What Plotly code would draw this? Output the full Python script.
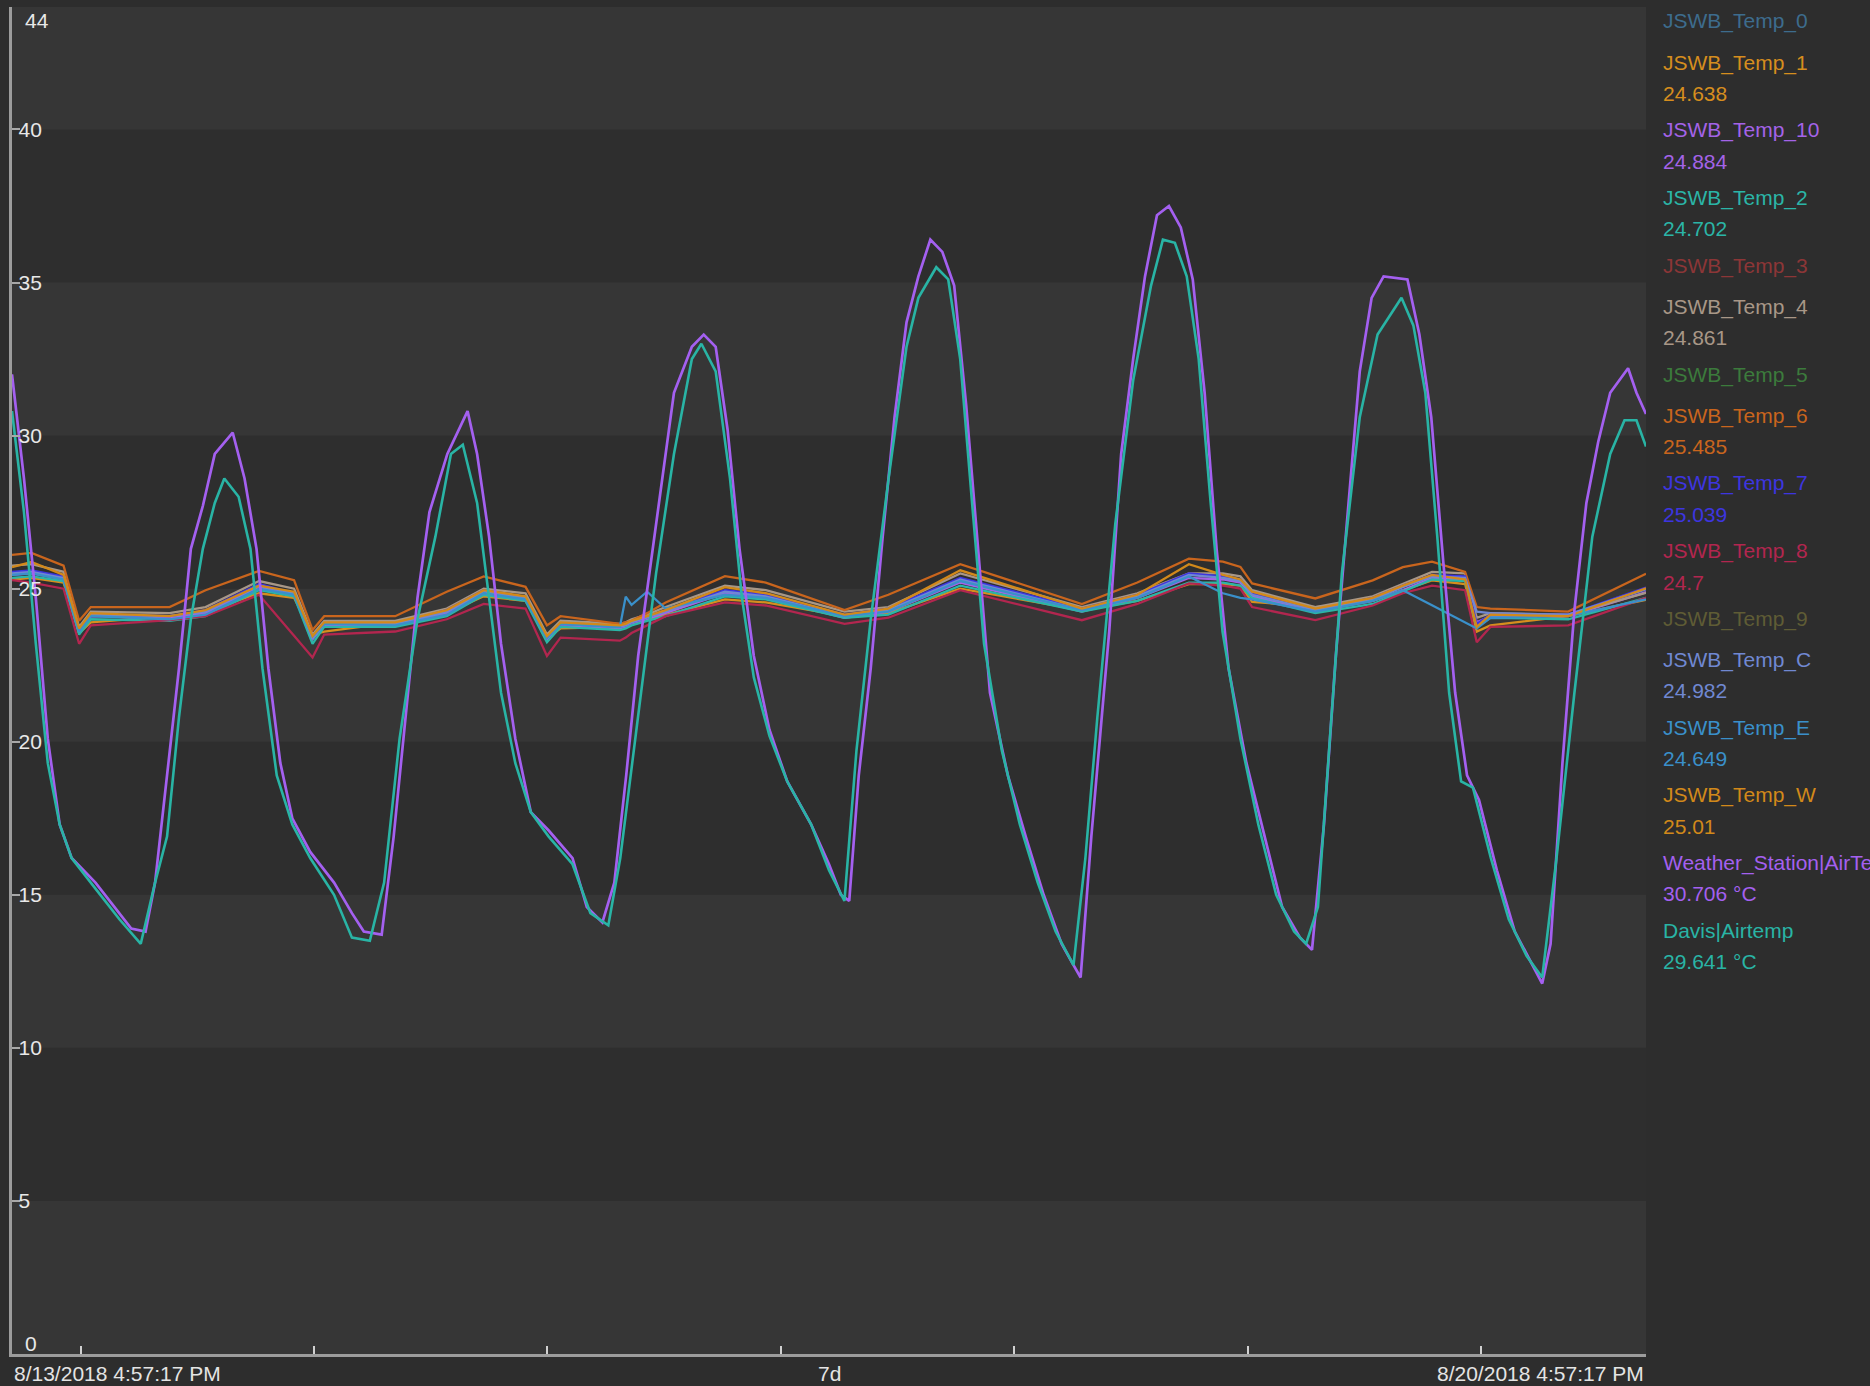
import pandas as pd
import plotly.graph_objects as go

START = pd.Timestamp("2018-08-13 16:57:17")
END = START + pd.Timedelta(days=7)

# ---------------- data ----------------
# big curves (hours from start, °C)
WS_H = [0.0, 1.23, 2.45, 3.68, 4.90, 6.13, 8.58, 11.04, 12.26, 13.73, 14.71, 15.94, 17.17, 18.39, 19.62,
        20.85, 22.69, 23.91, 25.14, 26.36, 27.59, 28.82, 30.66, 33.11, 34.95, 36.17, 38.01, 39.24, 40.47,
        41.69, 42.92, 44.76, 46.84, 47.82, 49.05, 50.28, 51.75, 53.34, 55.18, 57.63, 59.10, 60.70, 61.93,
        63.15, 64.38, 66.22, 68.06, 69.90, 71.12, 72.35, 73.57, 74.80, 76.27, 77.87, 79.71, 82.16, 84.00,
        85.22, 86.08, 87.06, 88.29, 89.52, 90.74, 91.97, 93.19, 94.42, 95.65, 96.87, 98.10, 99.33, 100.55,
        102.39, 104.23, 106.07, 107.91, 109.14, 109.87, 110.97, 112.81, 114.04, 115.27, 116.49, 117.72,
        118.95, 120.17, 121.40, 122.62, 123.85, 125.08, 126.92, 128.76, 130.59, 132.43, 133.66, 134.89,
        136.11, 137.34, 138.57, 139.79, 141.02, 143.47, 144.70, 145.92, 147.15, 148.38, 149.60, 150.83,
        152.67, 154.51, 156.35, 157.33, 158.19, 159.41, 160.64, 161.87, 163.09, 164.32, 166.16, 167.02, 168.0]
WS_V = [32.0, 28.6, 24.7, 20.1, 17.3, 16.2, 15.4, 14.4, 13.9, 13.8, 15.4, 18.9, 22.4, 26.3, 27.7,
        29.4, 30.1, 28.6, 26.3, 22.4, 19.3, 17.5, 16.4, 15.4, 14.4, 13.8, 13.7, 16.9, 20.8,
        24.7, 27.5, 29.4, 30.8, 29.4, 26.7, 23.2, 20.1, 17.7, 17.1, 16.2, 14.6, 14.1, 15.4,
        18.9, 22.8, 27.1, 31.4, 32.9, 33.3, 32.9, 30.2, 26.3, 22.8, 20.4, 18.7, 17.3, 16.0,
        15.0, 14.8, 18.9, 22.4, 26.7, 30.6, 33.7, 35.2, 36.4, 36.0, 34.9, 31.0, 26.3, 21.6,
        18.9, 16.9, 15.0, 13.4, 12.7, 12.3, 16.9, 23.6, 29.4, 32.5, 35.2, 37.2,
        37.5, 36.8, 35.1, 31.4, 26.3, 22.4, 19.3, 16.9, 14.6, 13.6, 13.2, 17.3,
        22.8, 27.5, 32.1, 34.5, 35.2, 35.1, 33.3, 30.6, 25.9, 21.6, 18.9, 18.1,
        15.8, 13.8, 12.7, 12.1, 13.4, 19.3, 24.3, 27.8, 29.8, 31.4, 32.2, 31.4, 30.706]

DV_H = [0.0, 1.23, 2.45, 3.68, 4.90, 6.13, 8.58, 11.04, 13.24, 14.71, 15.94, 17.17, 18.39, 19.62, 20.85,
        21.83, 23.30, 24.52, 25.75, 27.22, 28.82, 30.66, 33.11, 34.95, 36.79, 38.26, 39.85, 41.69, 43.53,
        45.13, 46.35, 47.82, 49.05, 50.28, 51.75, 53.34, 55.18, 57.63, 59.47, 61.31, 62.54, 64.38, 66.22,
        68.06, 69.90, 70.88, 72.35, 73.82, 75.05, 76.27, 77.87, 79.71, 82.16, 84.00, 85.59, 86.82, 88.29,
        90.13, 91.97, 93.19, 95.03, 96.26, 97.49, 98.71, 99.94, 101.78, 103.62, 105.46, 107.30, 109.14,
        110.36, 111.59, 113.43, 115.27, 117.11, 118.33, 119.56, 120.78, 122.01, 123.24, 124.46, 126.30,
        128.14, 129.98, 131.82, 133.05, 134.27, 135.50, 136.73, 138.57, 140.40, 142.86, 144.08, 145.31,
        146.54, 147.76, 148.99, 150.21, 152.05, 153.89, 155.73, 157.33, 158.80, 160.64, 162.48, 164.32,
        165.79, 167.02, 168.0]
DV_V = [30.8, 27.5, 23.2, 19.3, 17.3, 16.2, 15.2, 14.2, 13.4, 15.4, 16.9, 20.8, 24.0, 26.3, 27.8,
        28.6, 28.0, 26.3, 22.4, 18.9, 17.3, 16.2, 15.0, 13.6, 13.5, 15.4, 20.1, 24.0, 26.7,
        29.4, 29.7, 27.8, 24.7, 21.6, 19.3, 17.7, 16.9, 16.0, 14.4, 14.0, 16.2, 20.8, 25.5,
        29.4, 32.5, 33.0, 32.1, 28.6, 24.7, 22.1, 20.2, 18.7, 17.3, 15.8, 14.8, 19.7, 24.0,
        28.6, 32.9, 34.5, 35.5, 35.1, 32.5, 27.8, 23.2, 19.7, 17.3, 15.4, 13.8, 12.7,
        16.2, 20.8, 27.1, 31.8, 34.9, 36.4, 36.3, 35.2, 32.5, 27.8, 23.6, 20.1,
        17.3, 15.0, 13.8, 13.4, 14.6, 20.1, 25.5, 30.6, 33.3, 34.5, 33.6, 31.4,
        26.7, 21.6, 18.7, 18.5, 16.2, 14.2, 13.0, 12.3, 16.2, 21.6, 26.7, 29.4,
        30.5, 30.5, 29.641]

# indoor sensors share one set of sample times (hours from start)
FLAT_H = [0, 2.0, 5.3, 6.9, 8.1, 16.2, 19.9, 25.4, 29.0, 30.9, 32.1, 39.4, 44.7, 48.5, 52.8, 55.0,
          56.4, 62.5, 63.1, 63.7, 65.3, 67.2, 73.3, 77.5, 85.6, 90.1, 97.5, 110.0, 115.7, 121.0,
          124.5, 126.3, 127.5, 134.0, 139.9, 143.0, 146.0, 149.4, 150.6, 152.0, 160.0, 168.0]

T1 = [25.30, 25.35, 25.20, 23.55, 23.90, 24.10, 24.25, 24.85, 24.70, 23.50, 23.60, 23.90, 24.20, 24.75,
      24.60, 23.40, 23.70, 23.75, 23.80, 23.85, 24.00, 24.15, 24.65, 24.55, 24.10, 24.20, 25.00, 24.30,
      24.60, 25.15, 25.15, 25.10, 24.57, 24.40, 24.60, 24.95, 25.27, 25.15, 23.60, 23.80, 24.10, 24.638]
T10 = [25.45, 25.50, 25.30, 23.55, 24.10, 24.05, 24.20, 25.05, 24.80, 23.35, 23.80, 23.80, 24.20, 24.85,
       24.65, 23.35, 23.80, 23.70, 23.75, 23.85, 24.00, 24.20, 24.85, 24.70, 24.05, 24.25, 25.20, 24.25,
       24.70, 25.35, 25.30, 25.20, 24.75, 24.25, 24.60, 24.95, 25.35, 25.30, 23.90, 24.10, 24.10, 24.884]
T2 = [25.35, 25.40, 25.25, 23.50, 24.00, 23.95, 24.10, 24.95, 24.75, 23.20, 23.75, 23.75, 24.10, 24.80,
      24.60, 23.25, 23.75, 23.65, 23.70, 23.80, 23.95, 24.10, 24.75, 24.65, 24.05, 24.15, 25.10, 24.25,
      24.60, 25.20, 25.20, 25.10, 24.70, 24.20, 24.50, 24.90, 25.30, 25.25, 23.75, 24.05, 24.00, 24.702]
T4 = [25.75, 25.80, 25.55, 23.75, 24.25, 24.20, 24.40, 25.25, 25.00, 23.50, 23.95, 23.95, 24.35, 25.00,
      24.85, 23.50, 23.95, 23.85, 23.90, 24.00, 24.15, 24.40, 25.10, 24.95, 24.25, 24.40, 25.50, 24.40,
      24.85, 25.50, 25.50, 25.40, 24.95, 24.40, 24.75, 25.15, 25.55, 25.50, 24.05, 24.20, 24.15, 24.861]
T6 = [26.10, 26.17, 25.75, 23.95, 24.40, 24.40, 24.95, 25.58, 25.28, 23.65, 24.10, 24.10, 24.90, 25.40,
      25.06, 23.80, 24.10, 23.85, 23.90, 23.95, 24.20, 24.55, 25.41, 25.20, 24.30, 24.80, 25.80, 24.50,
      25.20, 25.98, 25.88, 25.71, 25.17, 24.68, 25.27, 25.70, 25.88, 25.55, 24.40, 24.35, 24.25, 25.485]
T7 = [25.55, 25.60, 25.40, 23.65, 24.15, 24.10, 24.30, 25.15, 24.85, 23.40, 23.85, 23.85, 24.30, 24.95,
      24.70, 23.40, 23.85, 23.75, 23.80, 23.90, 24.05, 24.30, 24.95, 24.80, 24.15, 24.35, 25.35, 24.35,
      24.80, 25.50, 25.40, 25.30, 24.85, 24.30, 24.70, 25.10, 25.45, 25.40, 23.85, 24.15, 24.15, 25.039]
T8 = [25.28, 25.20, 25.00, 23.20, 23.80, 23.97, 24.10, 24.80, 23.46, 22.75, 23.50, 23.60, 24.00, 24.50,
      24.35, 22.80, 23.40, 23.30, 23.40, 23.55, 23.80, 24.10, 24.55, 24.45, 23.85, 24.05, 24.95, 23.97,
      24.50, 25.17, 25.10, 25.00, 24.40, 23.97, 24.45, 24.85, 25.10, 24.95, 23.25, 23.75, 23.80, 24.70]
TC = [25.50, 25.55, 25.35, 23.60, 24.15, 24.10, 24.25, 25.10, 24.85, 23.35, 23.85, 23.85, 24.25, 24.90,
      24.70, 23.40, 23.85, 23.75, 23.80, 23.90, 24.05, 24.25, 24.90, 24.75, 24.10, 24.30, 25.30, 24.30,
      24.75, 25.45, 25.35, 25.25, 24.80, 24.30, 24.65, 25.05, 25.40, 25.35, 24.25, 24.20, 24.15, 24.982]
TE = [25.45, 25.50, 25.30, 23.60, 24.10, 24.00, 24.15, 25.00, 24.80, 23.45, 23.85, 23.80, 24.15, 24.85,
      24.65, 23.40, 23.85, 23.75, 24.74, 24.47, 24.90, 24.35, 24.80, 24.70, 24.10, 24.25, 25.25, 24.30,
      24.70, 25.40, 24.85, 24.70, 24.65, 24.25, 24.60, 24.95, 24.46, 23.90, 23.70, 24.05, 24.10, 24.649]
TW = [25.70, 25.87, 25.45, 23.70, 24.20, 24.10, 24.30, 25.10, 24.90, 23.45, 23.90, 23.90, 24.30, 24.95,
      24.75, 23.45, 23.90, 23.80, 23.85, 23.95, 24.10, 24.30, 25.05, 24.85, 24.15, 24.35, 25.60, 24.35,
      24.80, 25.80, 25.45, 25.30, 24.90, 24.35, 24.70, 25.10, 25.45, 25.30, 23.75, 24.15, 24.10, 25.01]

# legend entries: name, last value text (None = no data), colour
LEGEND_NAMES = ["JSWB_Temp_0", "JSWB_Temp_1", "JSWB_Temp_10", "JSWB_Temp_2", "JSWB_Temp_3",
                "JSWB_Temp_4", "JSWB_Temp_5", "JSWB_Temp_6", "JSWB_Temp_7", "JSWB_Temp_8",
                "JSWB_Temp_9", "JSWB_Temp_C", "JSWB_Temp_E", "JSWB_Temp_W",
                "Weather_Station|AirTemp", "Davis|Airtemp"]
LEGEND_VALUES = [None, "24.638", "24.884", "24.702", None, "24.861", None, "25.485", "25.039",
                 "24.7", None, "24.982", "24.649", "25.01", "30.706 °C", "29.641 °C"]
LEGEND_COLORS = ["#3d6c8d", "#d68e1e", "#a463e8", "#2bb5a7", "#8c3637", "#a89787", "#3c7b3c",
                 "#c9651d", "#3d35e0", "#b2264f", "#5f5c35", "#7088d2", "#3a90ca", "#d2891a",
                 "#a460f0", "#29b4a5"]

Y_TICKS = [0, 5, 10, 15, 20, 25, 30, 35, 40, 44]
BAND_EDGES = [0, 5, 10, 15, 20, 25, 30, 35, 40, 44]
DAY_TICKS = ["2018-08-14", "2018-08-15", "2018-08-16", "2018-08-17", "2018-08-18", "2018-08-19", "2018-08-20"]
LABEL_LEFT = "8/13/2018 4:57:17 PM"
LABEL_MID = "7d"
LABEL_RIGHT = "8/20/2018 4:57:17 PM"

# ---------------- figure ----------------
def to_time(hours):
    return START + pd.to_timedelta(pd.Series(hours, dtype=float), unit="h")

FONT = "Liberation Sans, Arial, sans-serif"
FS = 21
fig = go.Figure()

flat_series = [("JSWB_Temp_1", T1), ("JSWB_Temp_10", T10), ("JSWB_Temp_2", T2), ("JSWB_Temp_4", T4),
               ("JSWB_Temp_6", T6), ("JSWB_Temp_7", T7), ("JSWB_Temp_8", T8), ("JSWB_Temp_C", TC),
               ("JSWB_Temp_E", TE), ("JSWB_Temp_W", TW)]
color_of = dict(zip(LEGEND_NAMES, LEGEND_COLORS))
xt_flat = to_time(FLAT_H)
for name, vals in flat_series:
    fig.add_trace(go.Scatter(x=xt_flat, y=vals, mode="lines", name=name,
                             line=dict(color=color_of[name], width=2.3), showlegend=False))

fig.add_trace(go.Scatter(x=to_time(WS_H), y=WS_V, mode="lines", name="Weather_Station|AirTemp",
                         line=dict(color=color_of["Weather_Station|AirTemp"], width=2.7), showlegend=False))
fig.add_trace(go.Scatter(x=to_time(DV_H), y=DV_V, mode="lines", name="Davis|Airtemp",
                         line=dict(color=color_of["Davis|Airtemp"], width=2.6), showlegend=False))

# alternating horizontal bands
shapes = []
for i in range(len(BAND_EDGES) - 1):
    if i % 2 == 0:
        shapes.append(dict(type="rect", xref="paper", yref="y", x0=0, x1=1,
                           y0=BAND_EDGES[i], y1=BAND_EDGES[i + 1],
                           fillcolor="#363636", line=dict(width=0), layer="below"))

annotations = []
# legend as coloured text, laid out top-down in the right margin
PLOT_L, PLOT_W, PLOT_B, PLOT_H = 12, 1634, 1354, 1347
LEG_X = (1661 - PLOT_L) / PLOT_W
ypos = 21.5
for name, val, col in zip(LEGEND_NAMES, LEGEND_VALUES, LEGEND_COLORS):
    annotations.append(dict(text=name, xref="paper", yref="paper",
                            x=LEG_X, y=(PLOT_B - ypos) / PLOT_H,
                            xanchor="left", yanchor="middle", showarrow=False,
                            font=dict(family=FONT, size=FS, color=col)))
    if val is not None:
        annotations.append(dict(text=val, xref="paper", yref="paper",
                                x=LEG_X, y=(PLOT_B - ypos - 31) / PLOT_H,
                                xanchor="left", yanchor="middle", showarrow=False,
                                font=dict(family=FONT, size=FS, color=col)))
        ypos += 67.6
    else:
        ypos += 41.3

# bottom time labels
for txt, xx, anc in [(LABEL_LEFT, 0, "left"), (LABEL_MID, 0.5, "center"), (LABEL_RIGHT, 1, "right")]:
    annotations.append(dict(text=txt, xref="paper", yref="paper", x=xx, y=0, xanchor=anc,
                            yanchor="middle", yshift=-19, showarrow=False,
                            font=dict(family=FONT, size=FS, color="#e4e4e4")))
# end labels on y axis kept inside the plot
annotations.append(dict(text=str(Y_TICKS[-1]), xref="paper", yref="y", x=0, y=Y_TICKS[-1],
                        xanchor="left", yanchor="middle", xshift=11, yshift=-13, showarrow=False,
                        font=dict(family=FONT, size=FS, color="#e8e8e8")))
annotations.append(dict(text=str(Y_TICKS[0]), xref="paper", yref="y", x=0, y=Y_TICKS[0],
                        xanchor="left", yanchor="middle", xshift=11, yshift=11, showarrow=False,
                        font=dict(family=FONT, size=FS, color="#e8e8e8")))

fig.update_layout(
    width=1870, height=1386,
    margin=dict(l=12, r=224, t=7, b=32),
    paper_bgcolor="#2d2d2d", plot_bgcolor="#2e2e2e",
    shapes=shapes, annotations=annotations,
    showlegend=False,
    font=dict(family=FONT, color="#e8e8e8"),
    xaxis=dict(type="date", range=[START, END], showgrid=False, zeroline=False,
               showline=True, linecolor="#9c9c9c", linewidth=3,
               tickvals=DAY_TICKS, showticklabels=False,
               ticks="inside", ticklen=8, tickwidth=1.5, tickcolor="#d0d0d0"),
    yaxis=dict(range=[0, 44], showgrid=False, zeroline=False,
               showline=True, linecolor="#9c9c9c", linewidth=2.5,
               tickvals=Y_TICKS,
               ticktext=[("" if v in (Y_TICKS[0], Y_TICKS[-1]) else str(v)) for v in Y_TICKS],
               ticks="inside", ticklen=8, tickwidth=2, tickcolor="#a8a8a8",
               ticklabelposition="inside",
               tickfont=dict(family=FONT, size=FS, color="#e8e8e8")),
)

fig.write_html("out.html", config={"displayModeBar": False},
               post_script="document.body.style.margin='0px';document.body.style.background='#2d2d2d';")
